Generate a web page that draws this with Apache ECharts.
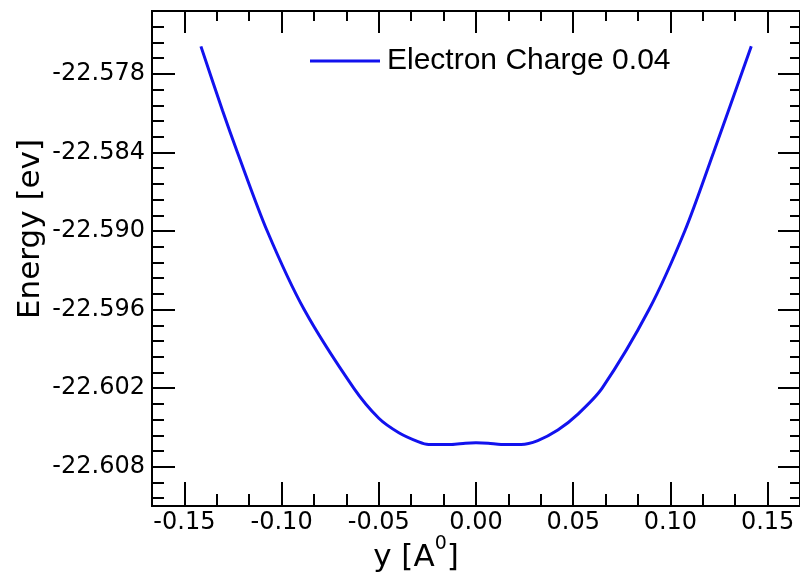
<!DOCTYPE html>
<html>
<head>
<meta charset="utf-8">
<script src="https://cdn.jsdelivr.net/npm/echarts@6/dist/echarts.min.js"></script>
<style>html,body{margin:0;padding:0;background:#fff;}#c{width:800px;height:577px;}</style>
</head>
<body>
<div id="c"></div>
<script>
// ---- data ----
const seriesName = 'Electron Charge 0.04';
const displacement = [-0.1415, -0.1304, -0.1227, -0.1074, -0.0884, -0.0629, -0.0500, -0.0397, -0.0295, -0.0244, -0.0126, -0.0055, 0.0000, 0.0063, 0.0129, 0.0232, 0.0318, 0.0421, 0.0523, 0.0649, 0.0890, 0.1074, 0.1222, 0.1416];
const energy = [-22.5759, -22.5808, -22.5840, -22.5900, -22.5960, -22.6020, -22.6043, -22.6054, -22.6061, -22.6063, -22.6063, -22.6062, -22.60617, -22.6062, -22.6063, -22.6063, -22.6060, -22.6052, -22.6040, -22.6020, -22.5960, -22.5900, -22.5840, -22.5759];
const xTickLabels = [-0.15, -0.10, -0.05, 0.00, 0.05, 0.10, 0.15];
const yTickLabels = [-22.608, -22.602, -22.596, -22.590, -22.584, -22.578];

// ---- axis ranges ----
const X_MIN = -1/6, X_MAX = 1/6;
const Y_MIN = -22.611, Y_MAX = -22.5732;

const xMinor = [];
for (let k = 0; k <= 20; k++) {
  if ((k - 1) % 3 === 0) continue;
  xMinor.push(+(X_MIN + k / 60).toFixed(6));
}
const yMinor = [];
for (let i = -27; i <= 4; i++) {
  if (i % 5 === 0) continue;
  const v = +(-22.578 + i * 0.0012).toFixed(4);
  if (v >= Y_MIN - 1e-9 && v <= Y_MAX + 1e-9) yMinor.push(v);
}

const axisFont = 'DejaVu Sans';
const lineSt = { color: '#000', width: 2 };

function xAx(pos, ticks, len, showLabel) {
  return {
    type: 'value', position: pos, min: X_MIN, max: X_MAX,
    axisLine: { show: true, onZero: false, lineStyle: lineSt },
    axisTick: { show: true, inside: true, length: len, customValues: ticks, lineStyle: lineSt },
    axisLabel: { show: showLabel, customValues: ticks, margin: 5, color: '#000', fontSize: 24, fontFamily: axisFont,
      formatter: v => v.toFixed(2) },
    splitLine: { show: false }
  };
}
function yAx(pos, ticks, len, showLabel) {
  return {
    type: 'value', position: pos, min: Y_MIN, max: Y_MAX,
    axisLine: { show: true, onZero: false, lineStyle: lineSt },
    axisTick: { show: true, inside: true, length: len, customValues: ticks, lineStyle: lineSt },
    axisLabel: { show: showLabel, customValues: ticks, margin: 7, color: '#000', fontSize: 24, fontFamily: axisFont,
      formatter: v => v.toFixed(3) },
    splitLine: { show: false }
  };
}

const chart = echarts.init(document.getElementById('c'), null, { renderer: 'canvas' });
chart.setOption({
  animation: false,
  backgroundColor: '#fff',
  grid: { left: 152, top: 11, right: -4, bottom: 71, containLabel: false },
  xAxis: [
    xAx('bottom', xTickLabels, 24, true),
    xAx('bottom', xMinor, 12, false),
    xAx('top', xTickLabels, 22, false),
    xAx('top', xMinor, 10, false)
  ],
  yAxis: [
    yAx('left', yTickLabels, 23, true),
    yAx('left', yMinor, 12, false),
    yAx('right', yTickLabels, 22, false),
    yAx('right', yMinor, 10, false)
  ],
  legend: {
    left: 310, top: 46, padding: 0, itemWidth: 70, itemHeight: 3, icon: 'rect',
    data: [seriesName],
    itemStyle: { color: '#1212ee' },
    textStyle: { fontSize: 30, fontFamily: 'Liberation Sans', color: '#000', padding: [0, 0, 0, 2] }
  },
  graphic: [
    { type: 'text', x: 31, y: 229, rotation: Math.PI / 2,
      style: { text: 'Energy [ev]', font: '31px "DejaVu Sans"', fill: '#000',
        align: 'center', verticalAlign: 'middle', textAlign: 'center', textVerticalAlign: 'middle' } },
    { type: 'text', x: 416, y: 558,
      style: { text: '{a|y [A}{s|0}{a|]}', fill: '#000',
        align: 'center', verticalAlign: 'middle', textAlign: 'center', textVerticalAlign: 'middle',
        rich: {
          a: { fontSize: 31, lineHeight: 46, fontFamily: axisFont, fill: '#000', color: '#000' },
          s: { fontSize: 19, lineHeight: 19, fontFamily: axisFont, fill: '#000', color: '#000', verticalAlign: 'top' }
        } } }
  ],
  series: [{
    name: seriesName,
    type: 'line',
    xAxisIndex: 0, yAxisIndex: 0,
    data: displacement.map((x, i) => [x, energy[i]]),
    smooth: 0.3,
    symbol: 'none',
    lineStyle: { color: '#1212ee', width: 3 },
    itemStyle: { color: '#1212ee' }
  }]
});
</script>
</body>
</html>
